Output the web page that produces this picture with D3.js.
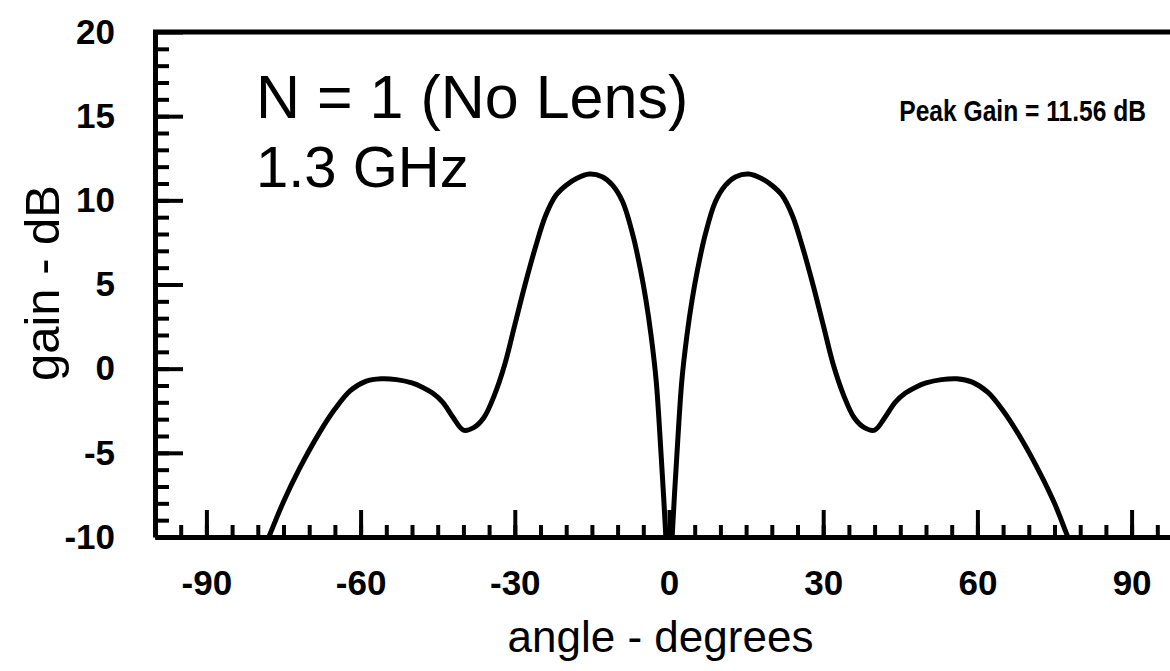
<!DOCTYPE html>
<meta charset="utf-8">
<title>Gain vs angle</title>
<style>
body {
  margin: 0px;
  background: #fff;
}
svg {
  font-family: "Liberation Sans", Arial, Helvetica, sans-serif;
}
</style>
<script src="https://cdn.jsdelivr.net/npm/d3@7"></script>
<body>
<script>

// pattern, right half and left half
var anglesRight = [0, 0.7, 1.5, 2.5, 3.5, 4.5, 5.5, 7, 9, 11, 13, 15.5, 18, 20, 22, 24, 26, 28, 30, 32, 34, 36, 38, 40, 42, 44, 46, 48, 50, 53, 56, 59, 62, 65, 68, 72, 75, 78, 80];
var gainsRight  = [-14, -9.5, -5.3, -0.7, 2.0, 4.1, 5.8, 7.9, 9.9, 10.9, 11.4, 11.56, 11.3, 10.9, 10.3, 9.1, 7.2, 5.0, 2.6, 0.2, -1.6, -2.9, -3.5, -3.65, -2.9, -2.0, -1.45, -1.1, -0.85, -0.65, -0.6, -0.8, -1.4, -2.5, -3.9, -6.1, -8.0, -10.3, -11.7];
var anglesLeft  = [-80, -78, -75, -72, -68, -65, -62, -59, -56, -53, -50, -48, -46, -44, -42, -40, -38, -36, -34, -32, -30, -28, -26, -24, -22, -20, -18, -15.5, -13, -11, -9, -7, -5.5, -4.5, -3.5, -2.5, -1.5, -0.7];
var gainsLeft   = [-11.5, -10.1, -7.9, -6.0, -3.8, -2.4, -1.3, -0.75, -0.6, -0.65, -0.85, -1.1, -1.45, -2.0, -2.9, -3.65, -3.5, -2.9, -1.6, 0.2, 2.6, 5.0, 7.2, 9.1, 10.3, 10.9, 11.3, 11.56, 11.4, 10.9, 9.9, 7.9, 5.8, 4.1, 2.0, -0.7, -5.3, -9.5];

var xTicks = [-90, -60, -30, 0, 30, 60, 90];
var yTicks = [-10, -5, 0, 5, 10, 15, 20];

var width = 1170, height = 671;
var margin = {left: 155, top: 32, right: 1183, bottom: 537};

var svg = d3.select('body').append('svg')
    .attr('width', width)
    .attr('height', height);

var x = d3.scaleLinear().domain([-100, 100]).range([margin.left, margin.right]);
var y = d3.scaleLinear().domain([-10, 20]).range([margin.bottom, margin.top]);

var pts = anglesLeft.map(function(a, i) { return [a, gainsLeft[i]]; })
  .concat(anglesRight.map(function(a, i) { return [a, gainsRight[i]]; }));

svg.append('clipPath').attr('id', 'plot')
  .append('rect')
    .attr('x', margin.left).attr('y', margin.top)
    .attr('width', margin.right - margin.left)
    .attr('height', margin.bottom - margin.top);

var line = d3.line()
    .x(function(d) { return x(d[0]); })
    .y(function(d) { return y(d[1]); })
    .curve(d3.curveCatmullRom.alpha(0.5));

svg.append('path')
    .datum(pts)
    .attr('clip-path', 'url(#plot)')
    .attr('d', line)
    .attr('fill', 'none')
    .attr('stroke', '#000')
    .attr('stroke-width', 5)
    .attr('stroke-linejoin', 'round');

// plain hyphen for negatives, like the original
var fmt = function(d) { return String(d); };

// minor ticks first, then major ones on top
var xMinor = svg.append('g')
    .attr('transform', 'translate(0,' + margin.bottom + ')')
    .call(d3.axisBottom(x).tickValues(d3.range(-95, 100, 5)).tickSize(-12).tickFormat(''));
var yMinor = svg.append('g')
    .attr('transform', 'translate(' + margin.left + ',0)')
    .call(d3.axisLeft(y).tickValues(d3.range(-9, 20, 1)).tickSize(-14).tickFormat(''));

var xAxis = svg.append('g')
    .attr('transform', 'translate(0,' + margin.bottom + ')')
    .call(d3.axisBottom(x).tickValues(xTicks).tickSizeInner(-27).tickSizeOuter(0).tickPadding(33).tickFormat(fmt));
var yAxis = svg.append('g')
    .attr('transform', 'translate(' + margin.left + ',0)')
    .call(d3.axisLeft(y).tickValues(yTicks).tickSizeInner(-28).tickSizeOuter(0).tickPadding(40).tickFormat(fmt));

[xMinor, yMinor, xAxis, yAxis].forEach(function(g) {
  g.selectAll('.tick line').attr('stroke', '#000').attr('stroke-width', 4);
  g.select('.domain').attr('stroke', '#000').attr('stroke-width', 5);
  g.selectAll('text')
    .attr('fill', '#000')
    .style('font-size', '35px')
    .style('font-weight', 'bold')
    .style('font-family', '"Liberation Sans", Arial, sans-serif');
});
xMinor.select('.domain').remove();
yMinor.select('.domain').remove();

// top border
svg.append('line')
    .attr('x1', margin.left - 2).attr('x2', margin.right)
    .attr('y1', margin.top).attr('y2', margin.top)
    .attr('stroke', '#000').attr('stroke-width', 5);

svg.append('text')
    .attr('x', (margin.left + 1170) / 2 - 2).attr('y', 652)
    .attr('text-anchor', 'middle')
    .style('font-size', '44px')
    .text('angle - degrees');

svg.append('text')
    .attr('transform', 'translate(59,283) rotate(-90)')
    .attr('text-anchor', 'middle')
    .style('font-size', '49px')
    .text('gain - dB');

svg.append('text')
    .attr('x', 256).attr('y', 118)
    .style('font-size', '61px')
    .text('N = 1 (No Lens)');
svg.append('text')
    .attr('x', 256).attr('y', 187)
    .style('font-size', '58px')
    .text('1.3 GHz');

// the original uses a narrow face here
svg.append('text')
    .attr('transform', 'translate(1146,121) scale(0.82,1)')
    .attr('text-anchor', 'end')
    .style('font-size', '30px')
    .style('font-weight', 'bold')
    .text('Peak Gain = 11.56 dB');

</script>
